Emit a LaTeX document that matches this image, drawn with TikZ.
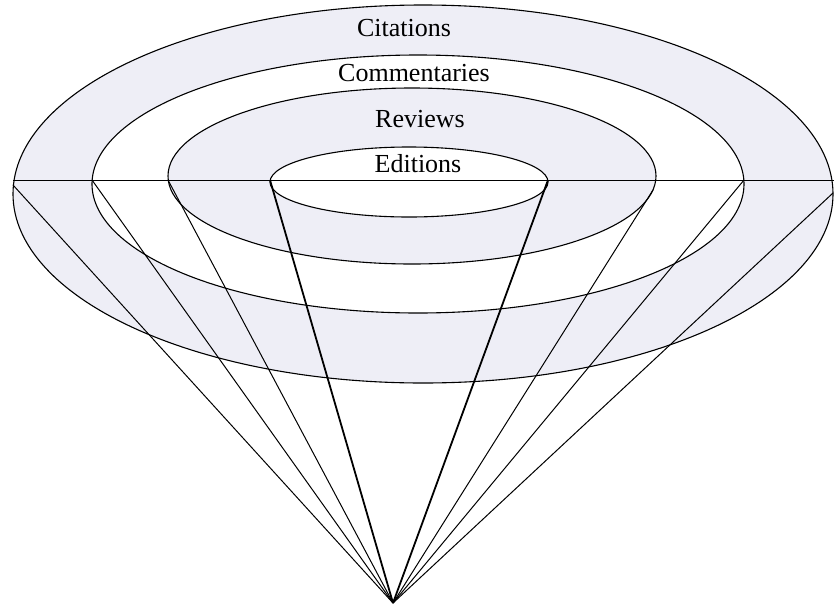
\documentclass[tikz,border=0pt]{standalone}
\usepackage{fontspec}
\setmainfont{Liberation Serif}
\usepackage{tikz}
\usetikzlibrary{positioning}
\definecolor{dotshade}{RGB}{238,238,246}
\tikzstyle{ring} = [draw=black, fill=dotshade, line width=1.1pt]
\tikzstyle{gap} = [draw=black, fill=white, line width=1.1pt]
\tikzstyle{ray} = [draw=black, line width=1pt]
\tikzstyle{thick_ray} = [draw=black, line width=1.8pt]
\tikzstyle{ring_text} = [anchor=base, inner sep=0pt, font=\fontsize{26}{30}\selectfont]

\begin{document}
\begin{tikzpicture}[x=1pt,y=-1pt]
\useasboundingbox (0,0) rectangle (834,608);

\coordinate (apex) at (393,603);
\coordinate (cit_l) at (13,185);
\coordinate (cit_r) at (833,193);
\coordinate (com_l) at (92,180);
\coordinate (com_r) at (744,180);
\coordinate (rev_l) at (168,180);
\coordinate (rev_r) at (653,190);
\coordinate (edi_l) at (270,180);
\coordinate (edi_r) at (548,180);
\coordinate (rim_l) at (13,180);
\coordinate (rim_r) at (834,180);

% the four discs, outer first
\draw[ring] (423,194) ellipse [x radius=410pt, y radius=189pt];
\draw[gap] (418,184) ellipse [x radius=326pt, y radius=129pt];
\draw[ring] (412,176) ellipse [x radius=244pt, y radius=88pt];
\draw[gap] (409,182) ellipse [x radius=139pt, y radius=35pt];

\draw[ray] (rim_l) -- (rim_r);

\node[ring_text] (citations) at (404,36) {Citations};
\node[ring_text] (commentaries) at (414,81) {Commentaries};
\node[ring_text] (reviews) at (420,127) {Reviews};
\node[ring_text] (editions) at (418,172) {Editions};

\draw[ray] (cit_l) -- (apex);
\draw[ray] (com_l) -- (apex);
\draw[ray] (rev_l) -- (apex);
\draw[thick_ray] (edi_l) -- (apex);
\draw[thick_ray] (edi_r) -- (apex);
\draw[ray] (rev_r) -- (apex);
\draw[ray] (com_r) -- (apex);
\draw[ray] (cit_r) -- (apex);
\end{tikzpicture}
\end{document}
